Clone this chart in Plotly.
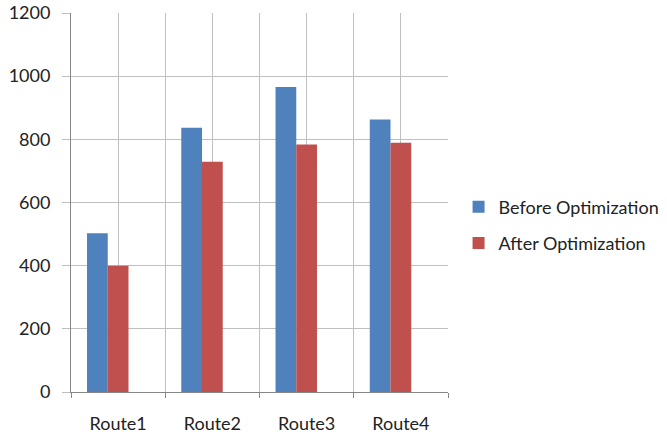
import plotly.graph_objects as go

# Chart data
routes = ["Route1", "Route2", "Route3", "Route4"]
before_opt = [503, 837, 966, 863]
after_opt = [400, 729, 784, 789]
y_ticks = [0, 200, 400, 600, 800, 1000, 1200]

positions = list(range(len(routes)))

BLUE = "#4F81BD"
RED = "#C0504D"
GRID = "#BFBFBF"
AXIS = "#868686"
FONT = "Lato"
TEXT = "#222222"

fig = go.Figure()
fig.add_trace(go.Bar(
    x=positions, y=before_opt, name="Before Optimization",
    legendgroup="before",
    marker=dict(color=BLUE, line=dict(width=0)),
    width=0.22, offset=-0.33,
))
fig.add_trace(go.Bar(
    x=positions, y=after_opt, name="After Optimization",
    legendgroup="after",
    marker=dict(color=RED, line=dict(width=0)),
    width=0.22, offset=-0.11,
))

fig.update_layout(
    width=667, height=434,
    margin=dict(l=71, r=219, t=13, b=42, autoexpand=False),
    paper_bgcolor="white", plot_bgcolor="white",
    font=dict(family=FONT, size=18, color=TEXT),
    showlegend=True,
    legend=dict(
        xref="container", yref="container",
        x=0.6875, y=0.4816, xanchor="left", yanchor="middle",
        font=dict(family=FONT, size=18, color=TEXT),
        tracegroupgap=10, itemsizing="constant",
        bgcolor="rgba(0,0,0,0)",
    ),
    xaxis=dict(
        range=[-0.5, 3.5], automargin=False,
        tickmode="array", tickvals=positions, ticktext=routes,
        showgrid=True, gridcolor=GRID, gridwidth=1,
        ticks="", showline=True, linecolor=AXIS, linewidth=1,
        zeroline=False,
        ticklabelstandoff=15,
        minor=dict(
            tickmode="array", tickvals=[p - 0.5 for p in positions] + [positions[-1] + 0.5],
            showgrid=True, gridcolor=GRID, gridwidth=1,
            ticks="outside", ticklen=5, tickcolor=AXIS, tickwidth=1,
        ),
        fixedrange=True,
    ),
    yaxis=dict(
        range=[0, 1200], automargin=False,
        tickmode="array", tickvals=y_ticks,
        showgrid=True, gridcolor=GRID, gridwidth=1,
        ticks="outside", ticklen=8, tickcolor=GRID, tickwidth=1,
        showline=True, linecolor=AXIS, linewidth=1,
        zeroline=False,
        ticklabelstandoff=8,
        fixedrange=True,
    ),
)

fig.write_html("out.html")
